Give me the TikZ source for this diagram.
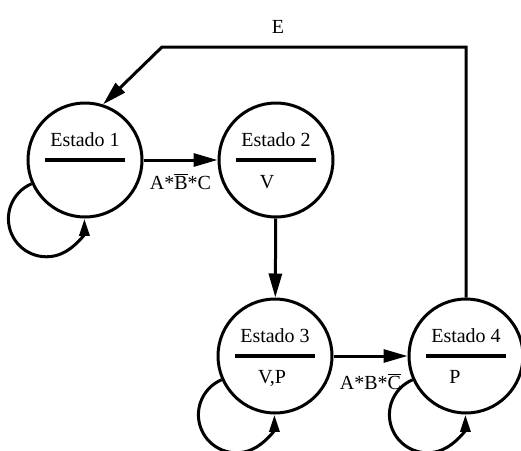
\documentclass[tikz,border=0pt]{standalone}
\usepackage{fontspec}
\setmainfont{Liberation Serif}
\usetikzlibrary{arrows.meta}
\newcommand{\negbar}[1]{\ensuremath{\overline{\mbox{#1}}}}
\begin{document}
\begin{tikzpicture}[x=1pt,y=1pt,
  every node/.style={font=\fontsize{20}{23}\selectfont},
  state/.style={circle,draw,line width=3pt,minimum size=114pt,inner sep=0pt},
  txt/.style={anchor=base,inner sep=0pt},
  wire/.style={line width=3pt},
  arr/.style={wire,-{Triangle[length=24pt,width=13pt]}},
  looparr/.style={wire,-{Triangle[length=17pt,width=10pt]}},
  divider/.style={line width=3.2pt}]
\useasboundingbox[fill=white] (0,0) rectangle (521,-450);

% states
\node[state] (s1) at (85,-160) {};
\node[state] (s2) at (276,-160) {};
\node[state] (s3) at (275,-356) {};
\node[state] (s4) at (466,-356) {};

% state titles and outputs
\foreach \s/\t in {s1/Estado 1,s2/Estado 2,s3/Estado 3,s4/Estado 4}{
  \node[txt] (\s t) at ([yshift=14pt]\s.center) {\t};
  \draw[divider] ([xshift=-40pt]\s.center) -- ([xshift=40pt]\s.center);
}
\node[txt] (s2o) at ([xshift=-9pt,yshift=-28pt]s2.center) {V};
\node[txt] (s3o) at ([xshift=-3pt,yshift=-27pt]s3.center) {V,P};
\node[txt] (s4o) at ([xshift=-11pt,yshift=-27pt]s4.center) {P};

% transitions
\draw[arr] (s1) -- (s2)
  node[midway,anchor=base,yshift=-29pt,inner sep=0pt] (l12) {A*\negbar{B}*C};
\draw[arr] (s2) -- (s3);
\draw[arr] (s3) -- (s4)
  node[midway,anchor=base,yshift=-33pt,inner sep=0pt] (l34) {A*B*\negbar{C}};

% reset path back to the first state
\coordinate (c1) at (466,-47);
\coordinate (c2) at (162,-47);
\draw[arr] (s4.north) -- (c1) -- (c2) -- (s1.72);
\node[anchor=base,inner sep=0pt] (le) at (278,-33) {E};

% self loops
\foreach \s in {s1,s3,s4}{
  \draw[looparr] (\s.204) arc[start angle=113,end angle=360,radius=38pt];
}
\end{tikzpicture}
\end{document}
